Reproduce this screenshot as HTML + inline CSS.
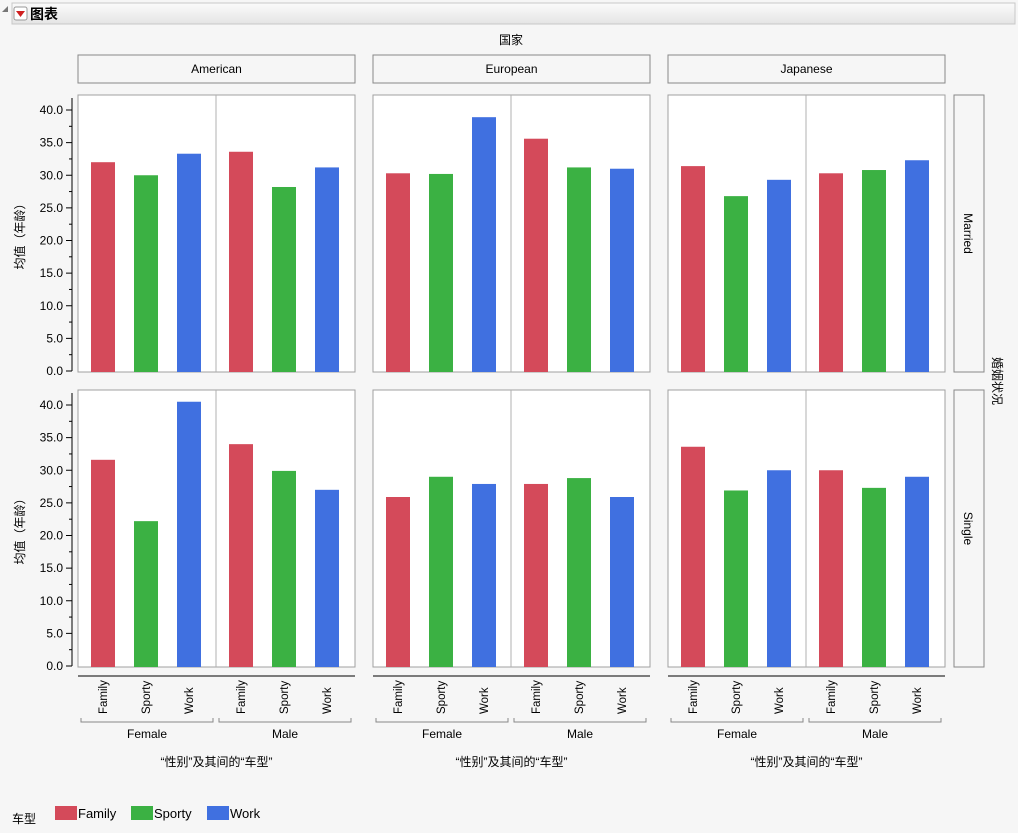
<!DOCTYPE html>
<html><head><meta charset="utf-8">
<style>
body{margin:0;width:1018px;height:828px;background:#f6f6f6;font-family:"Liberation Sans","Noto Sans CJK SC",sans-serif;overflow:hidden}
svg text{font-family:"Liberation Sans","Noto Sans CJK SC",sans-serif}
</style></head><body>
<svg id="c" width="1018" height="828" xmlns="http://www.w3.org/2000/svg">
<defs><linearGradient id="hg" x1="0" y1="0" x2="0" y2="1"><stop offset="0" stop-color="#fbfbfb"/><stop offset="1" stop-color="#e4e4e4"/></linearGradient></defs>
<g>
<rect x="12" y="3" width="1003" height="21" fill="url(#hg)" stroke="#c8c8c8"/>
<path d="M2 12 L8 6 L8 12 Z" fill="#777"/>
<rect x="14" y="7" width="13" height="13" rx="2" fill="#fff" stroke="#999"/>
<path d="M16 11 L25 11 L20.5 17 Z" fill="#d02020"/>
<text x="30" y="19" font-size="14" font-weight="bold" fill="#000">图表</text>
</g>
<text x="511" y="44" font-size="12" text-anchor="middle">国家</text>
<text transform="translate(993,381) rotate(90)" font-size="12" text-anchor="middle">婚姻状况</text>
<g id="plots"></g>
<g>
<text x="12" y="823" font-size="12">车型</text>
<rect x="55" y="806" width="22" height="14" fill="#d44a5a"/>
<text x="78" y="818" font-size="13">Family</text>
<rect x="131" y="806" width="22" height="14" fill="#3bb143"/>
<text x="154" y="818" font-size="13">Sporty</text>
<rect x="207" y="806" width="22" height="14" fill="#4070e0"/>
<text x="230" y="818" font-size="13">Work</text>
</g>
</svg>
<script>
const countries = ["American","European","Japanese"];
const statuses = ["Married","Single"];
const genders = ["Female","Male"];
const types = ["Family","Sporty","Work"];
const yTicks = [0,5,10,15,20,25,30,35,40];
const marriedAmerican = [32.0,30.0,33.3,33.6,28.2,31.2];
const marriedEuropean = [30.3,30.2,38.9,35.6,31.2,31.0];
const marriedJapanese = [31.4,26.8,29.3,30.3,30.8,32.3];
const singleAmerican = [31.6,22.2,40.5,34.0,29.9,27.0];
const singleEuropean = [25.9,29.0,27.9,27.9,28.8,25.9];
const singleJapanese = [33.6,26.9,30.0,30.0,27.3,29.0];
const values = [[marriedAmerican,marriedEuropean,marriedJapanese],[singleAmerican,singleEuropean,singleJapanese]];
const colors = ["#d44a5a","#3bb143","#4070e0"];

const NS="http://www.w3.org/2000/svg";
const root=document.getElementById('plots');
function mk(tag,at,parent,txt){const e=document.createElementNS(NS,tag);for(const k in at)e.setAttribute(k,at[k]);if(txt!==undefined)e.textContent=txt;(parent||root).appendChild(e);return e;}
const colX=[78,373,668], PW=277, rowY=[95,390], PH=277;
const yMax=40, yPix=261;
function yS(r,v){return rowY[r]+276-v/yMax*yPix;}

countries.forEach((c,ci)=>{
  const hx=mk('rect',{x:colX[ci],y:55,width:PW,height:28,fill:'#f6f6f6',stroke:'#888'});
  
  
  mk('text',{x:colX[ci]+PW/2,y:73,'font-size':12,'text-anchor':'middle'},null,c);
});
statuses.forEach((s,ri)=>{
  const st=mk('rect',{x:954,y:rowY[ri],width:30,height:PH,fill:'#f6f6f6',stroke:'#888'});
  
  
  mk('text',{transform:`translate(964,${rowY[ri]+PH/2}) rotate(90)`,'font-size':12,'text-anchor':'middle'},null,s);
  const ax=mk('g',{});
  
  
  mk('line',{x1:72,y1:rowY[ri]+3,x2:72,y2:yS(ri,0),stroke:'#000'},ax);
  for(let v=0;v<=42.5;v+=2.5){const y=yS(ri,v);if(y<rowY[ri])continue;mk('line',{x1:v%5===0?66:69,y1:y,x2:72,y2:y,stroke:'#000'},ax);}
  yTicks.forEach(v=>mk('text',{x:63,y:yS(ri,v)+4,'font-size':12,'text-anchor':'end'},ax,v.toFixed(1)));
  mk('text',{transform:`translate(24,${rowY[ri]+PH/2}) rotate(-90)`,'font-size':12,'text-anchor':'middle'},ax,'均值（年龄）');
  countries.forEach((c,ci)=>{
    const p=mk('rect',{x:colX[ci],y:rowY[ri],width:PW,height:PH,fill:'#fff',stroke:'#a0a0a0'});
    
    
    mk('line',{x1:colX[ci]+138,y1:rowY[ri],x2:colX[ci]+138,y2:rowY[ri]+PH,stroke:'#b0b0b0'});
    values[ri][ci].forEach((v,i)=>{
      const g=Math.floor(i/3),t=i%3;
      const cx=colX[ci]+g*138+25+t*43;
      const b=mk('rect',{x:cx-12,y:yS(ri,v),width:24,height:yS(ri,0)-yS(ri,v)+1,fill:colors[t]});
      
      
    });
  });
});
countries.forEach((c,ci)=>{
  const x0=colX[ci];
  const g=mk('g',{});
  
  
  mk('line',{x1:x0,y1:676,x2:x0+PW,y2:676,stroke:'#000'},g);
  genders.forEach((gd,gi)=>{
    types.forEach((t,ti)=>{
      const cx=x0+gi*138+25+ti*43;
      mk('text',{transform:`translate(${cx+4},714) rotate(-90)`,'font-size':11.5},g,t);
    });
    const bx=x0+gi*138;
    mk('path',{d:`M${bx+3} 718 V722 H${bx+135} V718`,fill:'none',stroke:'#888'},g);
    mk('text',{x:bx+69,y:738,'font-size':12,'text-anchor':'middle'},g,gd);
  });
  mk('text',{x:x0+PW/2,y:766,'font-size':12,'text-anchor':'middle'},g,'“性别”及其间的“车型”');
});
</script>
</body></html>
